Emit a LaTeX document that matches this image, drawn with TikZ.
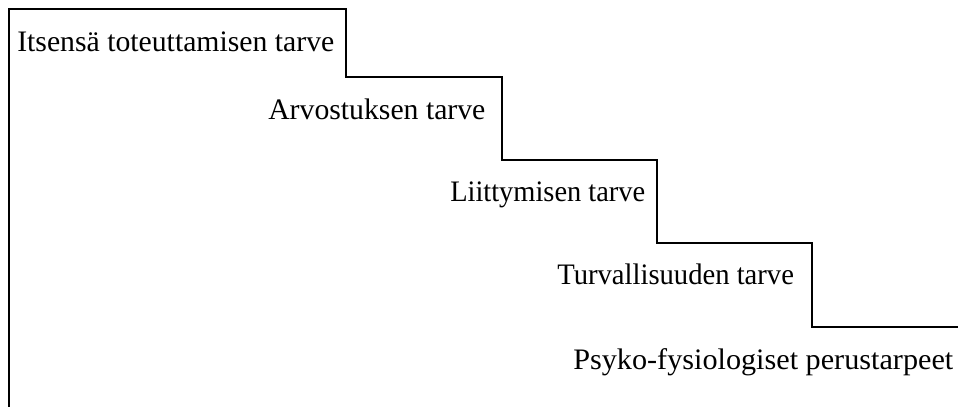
\documentclass[tikz,border=0pt]{standalone}
\usepackage{fontspec}
\setmainfont{Liberation Serif}
\begin{document}
\begin{tikzpicture}[x=0.75pt,y=-0.75pt,
  lbl/.style={anchor=base west,inner sep=0pt,font=\fontsize{22.3}{26}\selectfont},
  stair/.style={draw=black,line width=1.1pt}]
\useasboundingbox (0,0) rectangle (958,407);
\node[lbl] (l1) at (17,51) {Itsensä toteuttamisen tarve};
\node[lbl] (l2) at (268,119) {Arvostuksen tarve};
\node[lbl] (l3) at (450,201) {\scalebox{0.956}[1]{Liittymisen tarve}};
\node[lbl] (l4) at (557,284) {\scalebox{0.963}[1]{Turvallisuuden tarve}};
\node[lbl] (l5) at (573,369) {\scalebox{1.016}[1]{Psyko-fysiologiset perustarpeet}};
\draw[stair] (9,407) -- (9,9) -- (346,9) -- (346,77) -- (502,77) -- (502,160)
  -- (657,160) -- (657,243) -- (812,243) -- (812,327) -- (958,327);
\end{tikzpicture}
\end{document}
